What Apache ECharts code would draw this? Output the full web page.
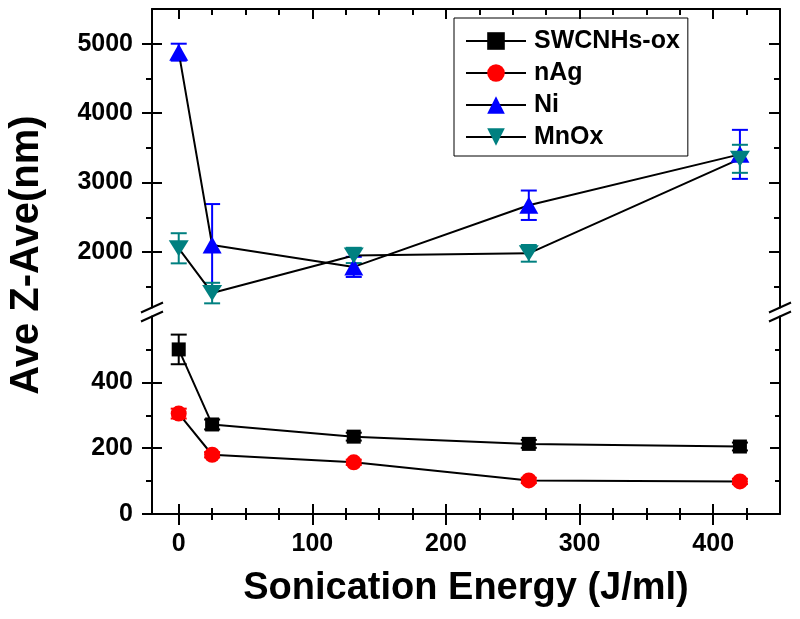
<!DOCTYPE html>
<html>
<head>
<meta charset="utf-8">
<script src="https://cdn.jsdelivr.net/npm/echarts@6/dist/echarts.min.js"></script>
<style>html,body{margin:0;padding:0;background:#fff;}#c{width:800px;height:619px;}</style>
</head>
<body>
<div id="c"></div>
<script>
// ---- data ----
const energy = [0, 25, 131, 262, 420];
const swcnhs = [500, 272, 235, 213, 205];
const swcnhsErr = [45, 15, 12, 12, 12];
const nAg = [305, 180, 157, 102, 99];
const nAgErr = [15, 8, 8, 8, 8];
const ni = [4878, 2100, 1785, 2673, 3406];
const niErr = [122, 590, 145, 212, 353];
const mnox = [2053, 1408, 1950, 1980, 3342];
const mnoxErr = [217, 148, 110, 120, 202];

const xMajor = [0, 100, 200, 300, 400];
const xMinor = [25, 50, 75, 125, 150, 175, 225, 250, 275, 325, 350, 375, 425];
const upperMajor = [2000, 3000, 4000, 5000];
const upperMinor = [1500, 2500, 3500, 4500];
const lowerMajor = [0, 200, 400];
const lowerMinor = [100, 300, 500];

const FONT = '"Liberation Sans", Arial, sans-serif';
const X_MIN = -20, X_MAX = 450;
const UP_MIN = 1200, UP_MAX = 5500;
const LO_MIN = 0, LO_MAX = 600;

const G_LEFT = 152, G_WIDTH = 628;
const UP_TOP = 9, UP_BOTTOM = 307.5;
const LO_TOP = 316.5, LO_BOTTOM = 514;

const lineBlack = { show: true, onZero: false, lineStyle: { color: '#000', width: 2 } };
const noLine = { show: false, onZero: false };
const noLabel = { show: false };
const noSplit = { show: false };

function xAx(grid, pos, opts) {
  return Object.assign({
    type: 'value', gridIndex: grid, position: pos, min: X_MIN, max: X_MAX,
    axisLine: noLine, axisLabel: noLabel, splitLine: noSplit, axisTick: { show: false }
  }, opts);
}
function yAx(grid, pos, mn, mx, opts) {
  return Object.assign({
    type: 'value', gridIndex: grid, position: pos, min: mn, max: mx,
    axisLine: noLine, axisLabel: noLabel, splitLine: noSplit, axisTick: { show: false }
  }, opts);
}
function ticks(vals, len, inside) {
  return { show: true, customValues: vals, length: len, inside: inside, lineStyle: { color: '#000', width: 2 } };
}
const labelStyle = {
  show: true, fontFamily: FONT, fontWeight: 'bold', fontSize: 25, color: '#000',
  formatter: function (v) { return String(v); }
};

const xAxes = [
  // grid 0 (upper) top frame
  xAx(0, 'top', { axisLine: lineBlack, axisTick: ticks(xMajor, 10, true) }),
  xAx(0, 'top', { axisTick: ticks(xMinor, 6, true) }),
  // grid 1 (lower) bottom axis
  xAx(1, 'bottom', {
    axisLine: lineBlack,
    axisLabel: Object.assign({ customValues: xMajor, margin: 18 }, labelStyle),
    name: 'Sonication Energy (J/ml)', nameLocation: 'middle', nameGap: 56,
    nameTextStyle: { fontFamily: FONT, fontWeight: 'bold', fontSize: 38, color: '#000' }
  }),
  xAx(1, 'bottom', { offset: -10, axisTick: ticks(xMajor, 21, false) }),
  xAx(1, 'bottom', { offset: -6, axisTick: ticks(xMinor, 12, false) })
];

const yAxes = [
  // upper grid
  yAx(0, 'left', UP_MIN, UP_MAX, { axisLine: lineBlack, axisLabel: Object.assign({ customValues: upperMajor, margin: 19 }, labelStyle) }),
  yAx(0, 'left', UP_MIN, UP_MAX, { offset: -10, axisTick: ticks(upperMajor, 20, false) }),
  yAx(0, 'left', UP_MIN, UP_MAX, { axisTick: ticks(upperMinor, 6, false) }),
  yAx(0, 'right', UP_MIN, UP_MAX, { axisLine: lineBlack, axisTick: ticks(upperMajor, 11, true) }),
  yAx(0, 'right', UP_MIN, UP_MAX, { axisTick: ticks(upperMinor, 6, true) }),
  // lower grid
  yAx(1, 'left', LO_MIN, LO_MAX, { axisLine: lineBlack, axisLabel: Object.assign({ customValues: lowerMajor, margin: 19 }, labelStyle) }),
  yAx(1, 'left', LO_MIN, LO_MAX, { offset: -10, axisTick: ticks(lowerMajor, 20, false) }),
  yAx(1, 'left', LO_MIN, LO_MAX, { axisTick: ticks(lowerMinor, 6, false) }),
  yAx(1, 'right', LO_MIN, LO_MAX, { axisLine: lineBlack, axisTick: ticks([200, 400], 10, true) }),
  yAx(1, 'right', LO_MIN, LO_MAX, { axisTick: ticks(lowerMinor, 5, true) })
];

function errSeries(name, vals, errs, color, xi, yi) {
  return {
    name: name + ' err', type: 'custom', xAxisIndex: xi, yAxisIndex: yi, z: 1,
    silent: true, clip: false,
    encode: { x: 0, y: [1, 2] },
    data: energy.map((x, i) => [x, vals[i] - errs[i], vals[i] + errs[i]]),
    renderItem: function (params, api) {
      const x = api.value(0);
      const lo = api.coord([x, api.value(1)]);
      const hi = api.coord([x, api.value(2)]);
      const w = 8;
      const st = { stroke: color, lineWidth: 2 };
      return {
        type: 'group', children: [
          { type: 'line', shape: { x1: lo[0], y1: lo[1], x2: hi[0], y2: hi[1] }, style: st },
          { type: 'line', shape: { x1: lo[0] - w, y1: lo[1], x2: lo[0] + w, y2: lo[1] }, style: st },
          { type: 'line', shape: { x1: hi[0] - w, y1: hi[1], x2: hi[0] + w, y2: hi[1] }, style: st }
        ]
      };
    }
  };
}
function lineSeries(name, vals, color, symbol, size, xi, yi) {
  return {
    name: name, type: 'line', xAxisIndex: xi, yAxisIndex: yi, z: 3,
    data: energy.map((x, i) => [x, vals[i]]),
    symbol: symbol, symbolSize: size, showAllSymbol: true,
    lineStyle: { color: '#000', width: 2 },
    itemStyle: { color: color, borderWidth: 0 },
    emphasis: { disabled: true }
  };
}
const downTri = 'path://M0,0 L20,0 L10,16 Z';

const series = [
  errSeries('SWCNHs-ox', swcnhs, swcnhsErr, '#000000', 2, 5),
  errSeries('nAg', nAg, nAgErr, '#ff0000', 2, 5),
  errSeries('Ni', ni, niErr, '#0000ff', 0, 0),
  errSeries('MnOx', mnox, mnoxErr, '#008080', 0, 0),
  lineSeries('SWCNHs-ox', swcnhs, '#000000', 'rect', 14, 2, 5),
  lineSeries('nAg', nAg, '#ff0000', 'circle', 16, 2, 5),
  lineSeries('Ni', ni, '#0000ff', 'triangle', [19, 17], 0, 0),
  lineSeries('MnOx', mnox, '#008080', downTri, [20, 16], 0, 0)
];

function breakMarks(x) {
  const mk = (cy) => ({
    type: 'line', silent: true,
    shape: { x1: x - 11, y1: cy + 5, x2: x + 11, y2: cy - 5 },
    style: { stroke: '#000', lineWidth: 2 }
  });
  return [mk(UP_BOTTOM), mk(LO_TOP)];
}

const chart = echarts.init(document.getElementById('c'), null, { renderer: 'canvas' });
chart.setOption({
  animation: false,
  backgroundColor: '#fff',
  grid: [
    { left: G_LEFT, width: G_WIDTH, top: UP_TOP, height: UP_BOTTOM - UP_TOP, containLabel: false },
    { left: G_LEFT, width: G_WIDTH, top: LO_TOP, height: LO_BOTTOM - LO_TOP, containLabel: false }
  ],
  xAxis: xAxes,
  yAxis: yAxes,
  legend: {
    data: ['SWCNHs-ox', 'nAg', 'Ni', 'MnOx'],
    orient: 'vertical', left: 454, top: 18,
    itemWidth: 60, itemHeight: 22, itemGap: 7,
    padding: [10.5, 8, 6.5, 11],
    borderColor: '#000', borderWidth: 1,
    selectedMode: false,
    textStyle: { fontFamily: FONT, fontWeight: 'bold', fontSize: 25, color: '#000', lineHeight: 25, padding: [0, 0, 0, 3] }
  },
  graphic: [
    {
      type: 'text', x: 27, y: 255, rotation: Math.PI / 2, silent: true,
      style: { text: 'Ave Z-Ave(nm)', fill: '#000', font: 'bold 40px ' + FONT, textAlign: 'center', textVerticalAlign: 'middle' }
    }
  ].concat(breakMarks(G_LEFT), breakMarks(G_LEFT + G_WIDTH)),
  series: series
});
</script>
</body>
</html>
